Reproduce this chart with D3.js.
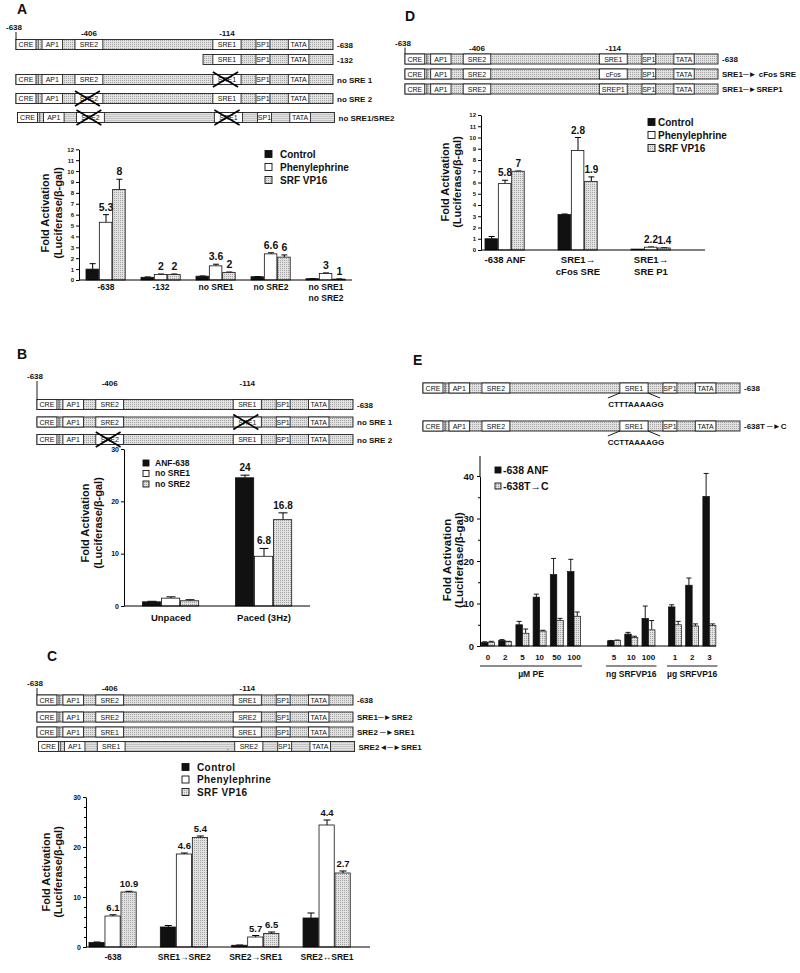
<!DOCTYPE html>
<html>
<head>
<meta charset="utf-8">
<title>ANF promoter SRE activation</title>
<script src="https://cdn.jsdelivr.net/npm/d3@7/dist/d3.min.js"></script>
<style>
body { margin: 0; background: #fff; }
svg { display: block; }
text { font-family: "Liberation Sans", Arial, Helvetica, sans-serif; font-weight: bold; fill: #111; }
.box { font-size: 7px; font-weight: normal; }
.rowlab { font-size: 8px; }
.pos { font-size: 8px; }
.panel { font-size: 14px; }
</style>
</head>
<body>
<svg id="fig" width="800" height="973"></svg>
<script>
// ---- promoter map, arbitrary units along the -638 ANF promoter ----
var elemNames = ["CRE", "AP1", "SRE2", "SRE1", "SP1", "TATA"];
var elemStart = [0, 8.2, 18.6, 62.1, 75.7, 85.9];
var elemEnd   = [6.3, 14.7, 27.4, 71.0, 80.1, 92.4];
var linkerMark = 7.0;
var posNames = ["-638", "-406", "-114"];

// ---- panel A ----
var rowsA = ["-638", "-132", "no SRE 1", "no SRE 2", "no SRE1/SRE2"];
var boxesA = [elemNames, [null, null, null, "SRE1", "SP1", "TATA"], elemNames, elemNames, elemNames];
var crossA = [[], [], [3], [2], [2, 3]];
var startA = [0, 59, 0, 0, 0];
var groupsA = ["-638", "-132", "no SRE1", "no SRE2", "no SRE1\nno SRE2"];
var seriesA = ["Control", "Phenylephrine", "SRF VP16"];
var controlA = [1.0, 0.25, 0.35, 0.3, 0.12];
var controlErrA = [0.5, 0.03, 0.02, 0.02, 0.02];
var pheA = [5.3, 0.5, 1.3, 2.4, 0.6];
var pheErrA = [0.7, 0.05, 0.15, 0.1, 0.05];
var srfA = [8.3, 0.5, 0.7, 2.1, 0.08];
var srfErrA = [0.95, 0.05, 0.03, 0.2, 0.02];
var pheFoldA = ["5.3", "2", "3.6", "6.6", "3"];
var srfFoldA = ["8", "2", "2", "6", "1"];

// ---- panel B ----
var rowsB = ["-638", "no SRE 1", "no SRE 2"];
var crossB = [[], [3], [2]];
var groupsB = ["Unpaced", "Paced (3Hz)"];
var seriesB = ["ANF-638", "no SRE1", "no SRE2"];
var anfB = [0.8, 24.5];
var anfErrB = [0.1, 0.5];
var noSre1B = [1.5, 9.5];
var noSre1ErrB = [0.25, 1.5];
var noSre2B = [1.0, 16.5];
var noSre2ErrB = [0.2, 1.3];
var foldB = [["", "24"], ["", "6.8"], ["", "16.8"]];

// ---- panel C ----
var rowsC = ["-638", "SRE1\u2500\u25BASRE2", "SRE2 \u2500\u25BASRE1", "SRE2\u25C4\u2500\u25BASRE1"];
var boxesC = [elemNames,
  ["CRE", "AP1", "SRE2", "SRE2", "SP1", "TATA"],
  ["CRE", "AP1", "SRE1", "SRE1", "SP1", "TATA"],
  ["CRE", "AP1", "SRE1", "SRE2", "SP1", "TATA"]];
var groupsC = ["-638", "SRE1\u2192SRE2", "SRE2\u2192SRE1", "SRE2\u2194SRE1"];
var controlC = [0.9, 4.0, 0.35, 5.8];
var controlErrC = [0.1, 0.3, 0.05, 1.0];
var pheC = [6.2, 18.6, 2.0, 24.4];
var pheErrC = [0.25, 0.2, 0.3, 1.0];
var srfC = [11.0, 21.9, 2.7, 14.8];
var srfErrC = [0.15, 0.3, 0.3, 0.4];
var pheFoldC = ["6.1", "4.6", "5.7", "4.4"];
var srfFoldC = ["10.9", "5.4", "6.5", "2.7"];

// ---- panel D ----
var rowsD = ["-638", "SRE1\u2500\u25BA cFos SRE", "SRE1\u2500\u25BASREP1"];
var boxesD = [elemNames,
  ["CRE", "AP1", "SRE2", "cFos", "SP1", "TATA"],
  ["CRE", "AP1", "SRE2", "SREP1", "SP1", "TATA"]];
var groupsD = ["-638 ANF", "SRE1\u2192\ncFos SRE", "SRE1\u2192\nSRE P1"];
var controlD = [1.0, 3.15, 0.08];
var controlErrD = [0.2, 0.05, 0];
var pheD = [5.9, 8.85, 0.25];
var pheErrD = [0.3, 1.15, 0.02];
var srfD = [7.0, 6.1, 0.18];
var srfErrD = [0.02, 0.4, 0.02];
var pheFoldD = ["5.8", "2.8", "2.2"];
var srfFoldD = ["7", "1.9", "1.4"];

// ---- panel E ----
var rowsE = ["-638", "-638T \u2500\u25BAC"];
var seqE = ["CTTTAAAAGG", "CCTTAAAAGG"];
var seriesE = ["-638 ANF", "-638T\u2192C"];
var doseGroupsE = ["\u00B5M PE", "ng SRFVP16", "\u00B5g SRFVP16"];
var dosesE = [["0", "2", "5", "10", "50", "100"], ["5", "10", "100"], ["1", "2", "3"]];
var anfE = [0.8, 1.3, 5.0, 11.5, 16.8, 17.5, 1.2, 2.8, 6.5, 9.2, 14.3, 35.2];
var anfErrE = [0.2, 0.2, 0.8, 0.7, 3.8, 2.9, 0.1, 0.4, 2.9, 0.5, 1.7, 5.4];
var mutE = [0.9, 1.0, 3.0, 3.5, 6.0, 7.0, 1.3, 2.0, 3.8, 5.0, 4.7, 4.8];
var mutErrE = [0.2, 0.1, 1.0, 0.2, 0.5, 1.0, 0.1, 0.3, 2.2, 0.8, 0.5, 0.4];

var svg = d3.select("#fig");

// stippled grey fill used on the promoter bars and SRF VP16 bars
var defs = svg.append("defs");
var stip = defs.append("pattern").attr("id", "stip")
    .attr("width", 2).attr("height", 2).attr("patternUnits", "userSpaceOnUse");
stip.append("rect").attr("width", 2).attr("height", 2).attr("fill", "#e2e2e2");
stip.append("rect").attr("width", 1).attr("height", 1).attr("fill", "#a4a4a4");

var seriesFill = ["#111", "#fff", "url(#stip)"];

// panel letters
[["A", 17, 14], ["B", 17, 359], ["C", 47, 661], ["D", 405, 21], ["E", 413, 365]].forEach(function(p) {
    svg.append("text").attr("class", "panel").attr("x", p[1]).attr("y", p[2]).text(p[0]);
});

// draws the promoter constructs of one panel
function drawConstructs(L, names, boxes, crosses) {
    var x = d3.scaleLinear().domain([0, 100]).range([L.x0, L.x1]);
    var g = svg.append("g");
    var h = 10;
    names.forEach(function(name, r) {
        var top = L.tops[r];
        var from = L.from ? L.from[r] : 0;
        var dx = L.shift ? L.shift[r] : 0;
        var row = g.append("g").attr("transform", "translate(" + dx + ",0)");
        row.append("rect")
            .attr("x", x(from)).attr("y", top)
            .attr("width", x(100) - x(from)).attr("height", h)
            .attr("fill", "url(#stip)").attr("stroke", "#333").attr("stroke-width", 1);
        if (from < linkerMark)
            row.append("line")
                .attr("x1", x(linkerMark)).attr("x2", x(linkerMark))
                .attr("y1", top).attr("y2", top + h)
                .attr("stroke", "#333").attr("stroke-width", 0.8);

        var slots = boxes[r].map(function(b, i) { return {b: b, i: i}; })
            .filter(function(d) { return d.b; });
        row.selectAll("rect.el").data(slots).enter().append("rect")
            .attr("class", "el")
            .attr("x", function(d) { return x(elemStart[d.i]); })
            .attr("y", top)
            .attr("width", function(d) { return x(elemEnd[d.i]) - x(elemStart[d.i]); })
            .attr("height", h)
            .attr("fill", "#fff").attr("stroke", "#222").attr("stroke-width", 0.9);
        row.selectAll("text.box").data(slots).enter().append("text")
            .attr("class", "box")
            .attr("x", function(d) { return (x(elemStart[d.i]) + x(elemEnd[d.i])) / 2; })
            .attr("y", top + h / 2 + 2.5)
            .attr("text-anchor", "middle")
            .text(function(d) { return d.b; });

        // mutated sites get an X
        (crosses ? crosses[r] : []).forEach(function(i) {
            var a = x(elemStart[i]), b = x(elemEnd[i]) - 3;
            row.append("line").attr("x1", a).attr("y1", top - 2.5).attr("x2", b).attr("y2", top + h + 2.5)
                .attr("stroke", "#000").attr("stroke-width", 1.6);
            row.append("line").attr("x1", a).attr("y1", top + h + 2.5).attr("x2", b).attr("y2", top - 2.5)
                .attr("stroke", "#000").attr("stroke-width", 1.6);
        });

        row.append("text").attr("class", "rowlab")
            .attr("x", x(100) + 4).attr("y", top + h / 2 + 3)
            .text(name);

        if (L.seqs) {
            var s0 = x(elemStart[3]), s1 = x(elemEnd[3]);
            row.append("line").attr("x1", s0).attr("y1", top + h).attr("x2", s0 - 12).attr("y2", top + h + 5)
                .attr("stroke", "#000").attr("stroke-width", 0.9);
            row.append("line").attr("x1", s1).attr("y1", top + h).attr("x2", s1 + 12).attr("y2", top + h + 5)
                .attr("stroke", "#000").attr("stroke-width", 0.9);
            row.append("text").attr("class", "pos")
                .attr("x", (s0 + s1) / 2 + 2).attr("y", top + h + 14)
                .attr("text-anchor", "middle")
                .text(L.seqs[r]);
        }
        if (L.dot && L.dot[r] != null)
            row.append("text").attr("class", "box").attr("x", x(L.dot[r])).attr("y", top + h - 1.5).text(".");
    });

    if (L.posY) {
        var p0 = x(0);
        g.append("text").attr("class", "pos").attr("x", p0 - 2).attr("y", L.posY[0])
            .attr("text-anchor", "middle").text(posNames[0]);
        g.append("line").attr("x1", p0).attr("x2", p0)
            .attr("y1", L.posY[0] + 2).attr("y2", L.tops[0])
            .attr("stroke", "#000").attr("stroke-width", 0.9);
        [2, 3].forEach(function(i, k) {
            g.append("text").attr("class", "pos")
                .attr("x", (x(elemStart[i]) + x(elemEnd[i])) / 2)
                .attr("y", L.posY[1])
                .attr("text-anchor", "middle")
                .text(posNames[k + 1]);
        });
    }
}

// y title on two lines, rotated
function yTitle(xa, xb, yc, size) {
    [["Fold Activation", xa], ["(Luciferase/\u03B2-gal)", xb]].forEach(function(t) {
        svg.append("text")
            .attr("transform", "translate(" + t[1] + "," + yc + ") rotate(-90)")
            .attr("text-anchor", "middle").attr("dy", "0.35em")
            .style("font-size", size + "px")
            .text(t[0]);
    });
}

function legend(L, names, fills) {
    names.forEach(function(n, i) {
        svg.append("rect")
            .attr("x", L.x).attr("y", L.ys[i] - L.sq / 2)
            .attr("width", L.sq).attr("height", L.sq)
            .attr("fill", fills[i]).attr("stroke", "#111").attr("stroke-width", 0.9);
        svg.append("text")
            .attr("x", L.tx).attr("y", L.ys[i]).attr("dy", "0.35em")
            .style("font-size", L.font + "px")
            .style("letter-spacing", (L.ls || 0) + "px")
            .text(n);
    });
}

// grouped bar chart with upward error bars
function barPanel(p) {
    var g = svg.append("g");
    var x = d3.scaleBand().domain(p.groups).range(p.xRange);
    var xs = d3.scaleBand().domain(p.series).range(p.inner);
    var y = d3.scaleLinear().domain(p.yDomain).range(p.yRange);

    var recs = [];
    p.series.forEach(function(s, si) {
        p.groups.forEach(function(gr, gi) {
            recs.push({g: gr, s: s, si: si, v: p.values[si][gi], e: p.errs[si][gi],
                       lab: p.labels[si] ? p.labels[si][gi] : ""});
        });
    });
    function left(d) { return x(d.g) + x.bandwidth() / 2 + xs(d.s); }
    function mid(d) { return left(d) + xs.bandwidth() / 2; }

    g.selectAll("line.err").data(recs.filter(function(d) { return d.e > 0; })).enter().append("line")
        .attr("class", "err")
        .attr("x1", mid).attr("x2", mid)
        .attr("y1", function(d) { return y(d.v); })
        .attr("y2", function(d) { return y(d.v + d.e); })
        .attr("stroke", "#000").attr("stroke-width", 1);
    g.selectAll("line.cap").data(recs.filter(function(d) { return d.e > 0; })).enter().append("line")
        .attr("class", "cap")
        .attr("x1", function(d) { return mid(d) - p.cap / 2; })
        .attr("x2", function(d) { return mid(d) + p.cap / 2; })
        .attr("y1", function(d) { return y(d.v + d.e); })
        .attr("y2", function(d) { return y(d.v + d.e); })
        .attr("stroke", "#000").attr("stroke-width", 1);

    g.selectAll("rect.bar").data(recs).enter().append("rect")
        .attr("class", "bar")
        .attr("x", left)
        .attr("y", function(d) { return y(d.v); })
        .attr("width", xs.bandwidth() - 0.8)
        .attr("height", function(d) { return y(0) - y(d.v); })
        .attr("fill", function(d) { return seriesFill[d.si]; })
        .attr("stroke", "#111").attr("stroke-width", 0.8);

    g.selectAll("text.val").data(recs.filter(function(d) { return d.lab; })).enter().append("text")
        .attr("class", "val")
        .attr("x", mid)
        .attr("y", function(d) { return y(d.v + d.e) - 4; })
        .attr("text-anchor", "middle")
        .style("font-size", p.valFont + "px")
        .text(function(d) { return d.lab; });

    var ax = g.append("g").attr("transform", "translate(" + p.axisX + ",0)")
        .call(d3.axisLeft(y).tickValues(p.ticks).tickSize(3).tickSizeOuter(0).tickPadding(2))
        .attr("font-family", null).attr("font-size", null);
    ax.selectAll("text").style("font-size", p.tickFont + "px");
    ax.selectAll("line, path").attr("stroke", "#000");
    if (p.minor) {
        g.append("g").attr("transform", "translate(" + p.axisX + ",0)")
            .call(d3.axisLeft(y).tickValues(p.minor).tickSize(2).tickFormat(""))
            .call(function(s) { s.select(".domain").remove(); s.selectAll("line").attr("stroke", "#000"); });
    }
    g.append("line")
        .attr("x1", p.axisX).attr("x2", p.xEnd)
        .attr("y1", y(0)).attr("y2", y(0))
        .attr("stroke", "#000").attr("stroke-width", 1);

    g.selectAll("text.cat").data(p.groups).enter().append("text")
        .attr("class", "cat")
        .attr("text-anchor", "middle")
        .style("font-size", p.catFont + "px")
        .each(function(d) {
            var t = d3.select(this);
            d.split("\n").forEach(function(line, i) {
                t.append("tspan")
                    .attr("x", x(d) + x.bandwidth() / 2)
                    .attr("y", p.catY + i * (p.catFont + 2))
                    .text(line);
            });
        });
}

// ================= panel A =================
drawConstructs({x0: 16, x1: 333, tops: [39.5, 54.5, 74.5, 93.5, 112.5], from: startA,
                shift: [0, 0, 0, 0, 1.5], posY: [30, 36]},
               rowsA, boxesA, crossA);
barPanel({groups: groupsA, series: seriesA,
          values: [controlA, pheA, srfA], errs: [controlErrA, pheErrA, srfErrA],
          labels: [null, pheFoldA, srfFoldA],
          xRange: [78.5, 353.5], inner: [-20, 20],
          yDomain: [0, 12], yRange: [280, 149.3], ticks: d3.range(0, 13),
          axisX: 79, xEnd: 352, tickFont: 6, catY: 290, catFont: 8.5, valFont: 10.5, cap: 6});
legend({x: 265, tx: 280, ys: [154, 167, 180], sq: 7, font: 10}, seriesA, seriesFill);
yTitle(45, 58, 213, 11);

// ================= panel B =================
drawConstructs({x0: 37, x1: 353, tops: [399.5, 417, 434.5], posY: [379, 385.5]},
               rowsB, [elemNames, elemNames, elemNames], crossB);
barPanel({groups: groupsB, series: seriesB,
          values: [anfB, noSre1B, noSre2B], errs: [anfErrB, noSre1ErrB, noSre2ErrB],
          labels: foldB,
          xRange: [124.5, 310.5], inner: [-28.5, 28.5],
          yDomain: [0, 30], yRange: [606, 449], ticks: [0, 10, 20, 30],
          axisX: 124, xEnd: 310, tickFont: 7, catY: 621, catFont: 9.5, valFont: 10, cap: 9});
legend({x: 143, tx: 155, ys: [463, 473.5, 484], sq: 6, font: 8.5}, seriesB, seriesFill);
yTitle(85, 98, 523, 11);

// ================= panel C =================
drawConstructs({x0: 37, x1: 353, tops: [695, 712, 727, 741.5], shift: [0, 0, 0, 1.5],
                posY: [686, 691], dot: [null, null, null, 59.6]},
               rowsC, boxesC, [[], [], [], []]);
barPanel({groups: groupsC, series: seriesA,
          values: [controlC, pheC, srfC], errs: [controlErrC, pheErrC, srfErrC],
          labels: [null, pheFoldC, srfFoldC],
          xRange: [77.3, 362.7], inner: [-24, 24],
          yDomain: [0, 30], yRange: [947, 797], ticks: [0, 10, 20, 30], minor: d3.range(0, 31, 2),
          axisX: 86, xEnd: 370, tickFont: 7, catY: 960, catFont: 8.5, valFont: 9.5, cap: 7});
legend({x: 182, tx: 197, ys: [767, 779.5, 792], sq: 7, font: 10, ls: 0.4}, seriesA, seriesFill);
yTitle(46, 58, 872, 11);

// ================= panel D =================
drawConstructs({x0: 405, x1: 718, tops: [54, 69, 84], posY: [45.5, 51]},
               rowsD, boxesD, [[], [], []]);
barPanel({groups: groupsD, series: seriesA,
          values: [controlD, pheD, srfD], errs: [controlErrD, pheErrD, srfErrD],
          labels: [null, pheFoldD, srfFoldD],
          xRange: [468.5, 687.5], inner: [-20, 20],
          yDomain: [0, 12], yRange: [250, 115], ticks: d3.range(0, 13),
          axisX: 481, xEnd: 705, tickFont: 6, catY: 263, catFont: 9.5, valFont: 10, cap: 6});
legend({x: 648, tx: 658, ys: [122, 135, 148], sq: 7, font: 10}, seriesA, seriesFill);
yTitle(445, 457, 182, 11);

// ================= panel E =================
drawConstructs({x0: 423, x1: 740, tops: [383, 421], seqs: seqE},
               rowsE, [elemNames, elemNames], [[], []]);

(function() {
    var g = svg.append("g");
    var groupSlot = [0, 7.33, 10.87];
    var slotX = d3.scaleLinear().domain([0, 1]).range([488, 505.2]);
    var y = d3.scaleLinear().domain([0, 40]).range([646, 476]);
    var bw = 6.5;

    var recs = [], k = 0;
    dosesE.forEach(function(list, gi) {
        list.forEach(function(dose, i) {
            recs.push({dose: dose, gi: gi, c: slotX(groupSlot[gi] + i),
                       v: [anfE[k], mutE[k]], e: [anfErrE[k], mutErrE[k]]});
            k++;
        });
    });

    recs.forEach(function(d) {
        [0, 1].forEach(function(s) {
            var x0 = d.c - bw + s * bw;
            var top = y(d.v[s] + d.e[s]);
            g.append("line").attr("x1", x0 + bw / 2).attr("x2", x0 + bw / 2)
                .attr("y1", y(d.v[s])).attr("y2", top).attr("stroke", "#000").attr("stroke-width", 0.9);
            g.append("line").attr("x1", x0 + bw / 2 - 2.5).attr("x2", x0 + bw / 2 + 2.5)
                .attr("y1", top).attr("y2", top).attr("stroke", "#000").attr("stroke-width", 0.9);
            g.append("rect").attr("x", x0).attr("y", y(d.v[s]))
                .attr("width", bw).attr("height", y(0) - y(d.v[s]))
                .attr("fill", s ? "url(#stip)" : "#111")
                .attr("stroke", "#111").attr("stroke-width", 0.7);
        });
        g.append("text").attr("x", d.c).attr("y", 660).attr("text-anchor", "middle")
            .style("font-size", "8px").text(d.dose);
    });

    // brackets under each dose series
    doseGroupsE.forEach(function(name, gi) {
        var xs = recs.filter(function(d) { return d.gi === gi; }).map(function(d) { return d.c; });
        var a = d3.min(xs) - 8, b = d3.max(xs) + 8;
        g.append("line").attr("x1", a).attr("x2", b).attr("y1", 666).attr("y2", 666)
            .attr("stroke", "#000").attr("stroke-width", 0.9);
        g.append("text").attr("x", (a + b) / 2).attr("y", 677).attr("text-anchor", "middle")
            .style("font-size", "8.5px").text(name);
    });

    var ax = g.append("g").attr("transform", "translate(480,0)")
        .call(d3.axisLeft(y).tickValues([0, 10, 20, 30, 40]).tickSize(3).tickSizeOuter(0).tickPadding(3))
        .attr("font-family", null).attr("font-size", null);
    ax.selectAll("text").style("font-size", "9.5px");
    ax.selectAll("line, path").attr("stroke", "#000");
    g.append("g").attr("transform", "translate(480,0)")
        .call(d3.axisLeft(y).tickValues([5, 15, 25, 35]).tickSize(2).tickFormat(""))
        .call(function(s) { s.select(".domain").remove(); s.selectAll("line").attr("stroke", "#000"); });
    g.append("line").attr("x1", 480).attr("x2", 480).attr("y1", y(40)).attr("y2", y(44.7))
        .attr("stroke", "#000");
    g.append("line").attr("x1", 480).attr("x2", 716).attr("y1", y(0)).attr("y2", y(0))
        .attr("stroke", "#000");
})();
legend({x: 495, tx: 503, ys: [470, 486], sq: 6, font: 10.5}, seriesE, ["#111", "url(#stip)"]);
yTitle(447, 459, 560, 11.5);
</script>
</body>
</html>
